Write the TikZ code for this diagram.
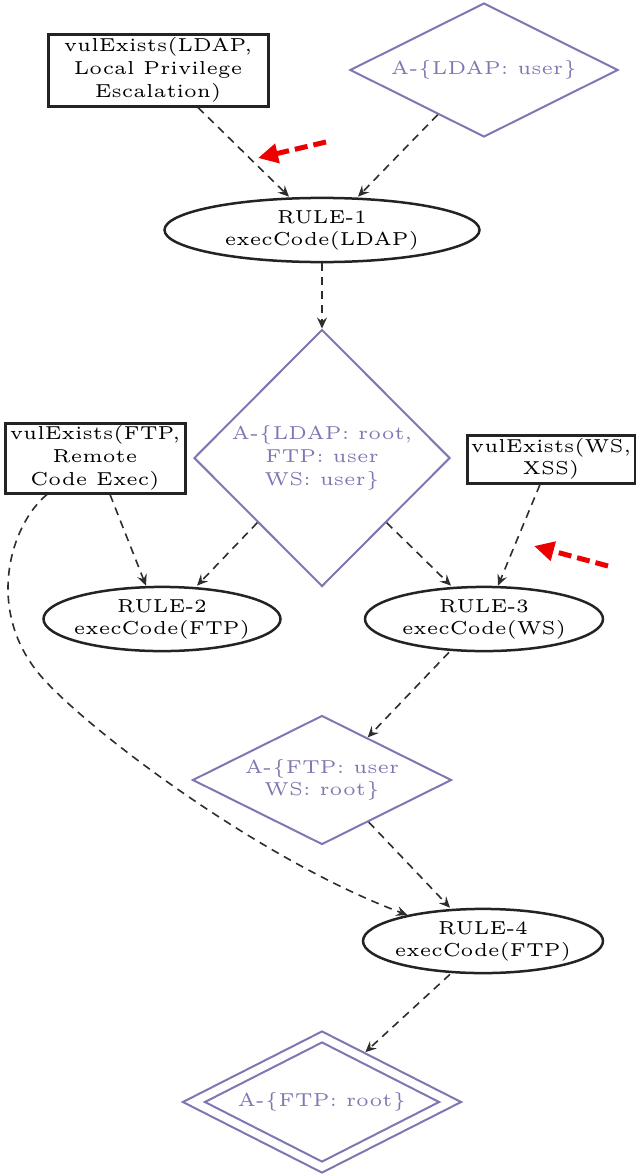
\documentclass[tikz,border=0pt]{standalone}
\usepackage{graphicx}
\usetikzlibrary{shapes.geometric,arrows.meta}

\definecolor{statecol}{RGB}{125,120,178}
\definecolor{edgecol}{RGB}{45,45,45}
\definecolor{framecol}{RGB}{35,35,35}
\definecolor{hintred}{RGB}{238,0,0}

% small optical-size Latin Modern, enlarged; zero width so shapes keep their set size
\newcommand\lbl[1]{\makebox[0pt]{\scalebox{3.75}{\fontsize{5}{6.05}\selectfont\begin{tabular}{@{}c@{}}#1\end{tabular}}}}

\begin{document}
\begin{tikzpicture}[x=1pt,y=-1pt,
  fact/.style={rectangle, draw=framecol, line width=3pt, inner sep=0pt},
  state/.style={diamond, draw=statecol, line width=2pt, text=statecol, inner sep=0pt},
  rule/.style={ellipse, draw=framecol, line width=2.5pt, inner sep=0pt},
  edge/.style={draw=edgecol, line width=1.6pt, dash pattern=on 8pt off 6pt,
    -{Stealth[length=11pt,width=10pt,inset=4pt]}},
  hint/.style={draw=hintred, line width=5pt, dash pattern=on 13pt off 6pt,
    -{Triangle[length=20pt,width=19pt]}}]
\useasboundingbox (0,0) rectangle (636,1175);

% facts, privilege states and rules
\node[fact, minimum width=220pt, minimum height=72pt] (vldap) at (158,70)
  {\lbl{vulExists(LDAP,\\Local Privilege\\Escalation)}};
\node[state, minimum width=268pt, minimum height=134pt] (sldap) at (484,70)
  {\lbl{A-\{LDAP: user\}}};
\node[rule, minimum width=315pt, minimum height=63pt] (r1) at (322,230)
  {\lbl{RULE-1\\execCode(LDAP)}};
\node[state, minimum width=256pt, minimum height=257pt] (sroot) at (322,458)
  {\lbl{A-\{LDAP: root,\\FTP: user\\WS: user\}}};
\node[fact, minimum width=180pt, minimum height=70pt] (vftp) at (95,458)
  {\lbl{vulExists(FTP,\\Remote\\Code Exec)}};
\node[fact, minimum width=168pt, minimum height=48pt] (vws) at (551,459)
  {\lbl{vulExists(WS,\\XSS)}};
\node[rule, minimum width=237pt, minimum height=63pt] (r2) at (162,619)
  {\lbl{RULE-2\\execCode(FTP)}};
\node[rule, minimum width=238pt, minimum height=63pt] (r3) at (484,619)
  {\lbl{RULE-3\\execCode(WS)}};
\node[state, minimum width=259pt, minimum height=129pt] (sws) at (322,780)
  {\lbl{A-\{FTP: user\\WS: root\}}};
\node[rule, minimum width=240pt, minimum height=64pt] (r4) at (483,941)
  {\lbl{RULE-4\\execCode(FTP)}};
% goal state with a double border
\node[state, minimum width=279pt, minimum height=142pt] (goal) at (322,1102) {};
\node[state, minimum width=235pt, minimum height=120pt] (goalin) at (322,1102)
  {\lbl{A-\{FTP: root\}}};

% dependencies
\draw[edge] ([xshift=40pt]vldap.south) -- ([xshift=-33pt]r1.north);
\draw[edge] (sldap.224) -- ([xshift=36pt]r1.north);
\draw[edge] (r1.south) -- (sroot.north);
\draw[edge] ([xshift=15pt]vftp.south) -- ([xshift=-16pt]r2.north);
\draw[edge] (sroot.225) -- ([xshift=35pt]r2.north);
\draw[edge] (sroot.-45) -- ([xshift=-33pt]r3.north);
\draw[edge] ([xshift=-11pt]vws.south) -- ([xshift=14pt]r3.north);
\draw[edge] ([xshift=-35pt]r3.south) -- (sws.43);
\draw[edge] (sws.-42) -- ([xshift=-33pt]r4.north);
\draw[edge] ([xshift=-48pt]vftp.south) .. controls (10,525) and (-15,610) .. (40,675)
  .. controls (85,728) and (260,860) .. (r4.161);
\draw[edge] ([xshift=-33pt]r4.south) -- (goal.49);

% highlight arrows
\coordinate (h1a) at (326,142);
\coordinate (h1b) at (258,158);
\coordinate (h2a) at (608,566);
\coordinate (h2b) at (534,546);
\draw[hint] (h1a) -- (h1b);
\draw[hint] (h2a) -- (h2b);
\end{tikzpicture}
\end{document}
